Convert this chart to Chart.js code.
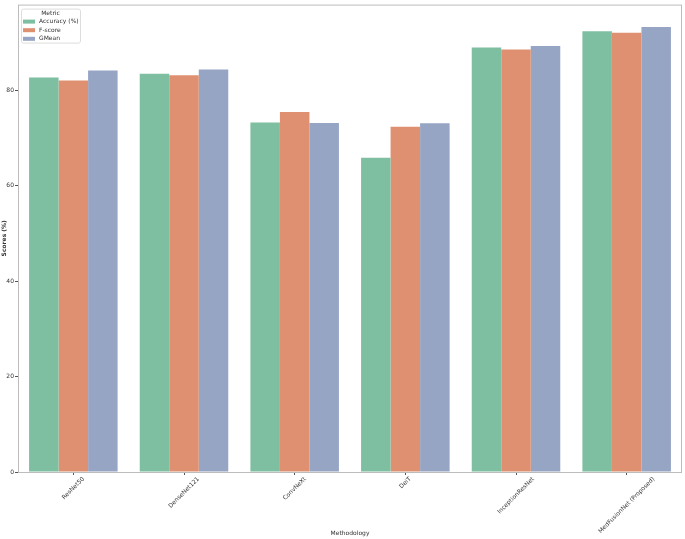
<!DOCTYPE html>
<html>
<head>
<meta charset="utf-8">
<script src="https://cdn.jsdelivr.net/npm/chart.js@4.4.1/dist/chart.umd.min.js"></script>
<style>
  body { margin: 0; background: #fff; }
  #wrap { width: 685px; height: 539px; position: relative; }
</style>
</head>
<body>
<div id="wrap"><canvas id="scoreChart"></canvas></div>
<script>
// data
const methods = ['ResNet50', 'DenseNet121', 'ConvNeXt', 'DeiT', 'InceptionResNet', 'MedFusionNet (Proposed)'];
const accuracy = [82.7, 83.5, 73.3, 65.9, 89.0, 92.4];
const fscore = [82.1, 83.2, 75.5, 72.4, 88.6, 92.1];
const gmean = [84.2, 84.4, 73.2, 73.1, 89.3, 93.3];
const yTicks = [0, 20, 40, 60, 80];

const FONT = 'DejaVu Sans';
const spineColor = '#bcbcbc';
const textColor = '#333';

// full box frame like matplotlib spines
const framePlugin = {
  id: 'frame',
  afterDraw(chart) {
    const a = chart.chartArea, ctx = chart.ctx;
    ctx.save();
    ctx.strokeStyle = spineColor;
    ctx.lineWidth = 1;
    ctx.strokeRect(a.left + 0.5, a.top + 0.5, a.right - a.left - 1, a.bottom - a.top);
    ctx.restore();
  }
};

// rotated x labels centred on the tick (matplotlib style)
const xLabelPlugin = {
  id: 'xLabels',
  afterDraw(chart) {
    const sc = chart.scales.x, ctx = chart.ctx;
    ctx.save();
    ctx.font = '6px "' + FONT + '"';
    ctx.fillStyle = textColor;
    ctx.textAlign = 'center';
    ctx.textBaseline = 'middle';
    const c = Math.SQRT1_2;
    methods.forEach((m, i) => {
      const x = sc.getPixelForTick(i);
      const w = ctx.measureText(m).width;
      const h = 6;
      const y = sc.top + 4 + (w + h) * c / 2;
      ctx.save();
      ctx.translate(x, y);
      ctx.rotate(-Math.PI / 4);
      ctx.fillText(m, 0, 0);
      ctx.restore();
    });
    ctx.restore();
  }
};

// legend box with title, top-left inside the axes
const legendPlugin = {
  id: 'boxLegend',
  afterDraw(chart) {
    const ctx = chart.ctx, a = chart.chartArea;
    const x0 = a.left + 3, y0 = a.top + 4, bw = 59, bh = 34;
    ctx.save();
    ctx.fillStyle = 'rgba(255,255,255,0.8)';
    ctx.strokeStyle = '#dddddd';
    ctx.lineWidth = 1;
    ctx.beginPath();
    ctx.roundRect(x0 + 0.5, y0 + 0.5, bw, bh, 2);
    ctx.fill();
    ctx.stroke();
    ctx.font = '6px "' + FONT + '"';
    ctx.fillStyle = textColor;
    ctx.textBaseline = 'middle';
    ctx.textAlign = 'center';
    ctx.fillText('Metric', x0 + bw / 2, y0 + 5);
    ctx.textAlign = 'left';
    chart.data.datasets.forEach((ds, i) => {
      const cy = y0 + 13 + i * 8.6;
      ctx.fillStyle = ds.backgroundColor;
      ctx.fillRect(x0 + 2, cy - 2, 12, 4);
      ctx.fillStyle = textColor;
      ctx.fillText(ds.label, x0 + 18, cy);
    });
    ctx.restore();
  }
};

new Chart(document.getElementById('scoreChart'), {
  type: 'bar',
  data: {
    labels: methods,
    datasets: [
      { label: 'Accuracy (%)', data: accuracy, backgroundColor: 'rgb(127,191,161)' },
      { label: 'F-score', data: fscore, backgroundColor: 'rgb(223,144,112)' },
      { label: 'GMean', data: gmean, backgroundColor: 'rgb(150,165,196)' }
    ]
  },
  options: {
    responsive: true,
    maintainAspectRatio: false,
    animation: false,
    datasets: { bar: { categoryPercentage: 0.8, barPercentage: 1.0, borderWidth: 0 } },
    layout: { padding: { top: 1, right: 3, left: 0, bottom: 0 } },
    plugins: { legend: { display: false }, tooltip: { enabled: false } },
    scales: {
      x: {
        grid: { offset: false, drawOnChartArea: false, tickLength: 3, color: '#555' },
        border: { display: false },
        ticks: { display: false },
        title: { display: true, text: 'Methodology', color: textColor, font: { family: FONT, size: 6 }, padding: { top: 0, bottom: 2 } },
        afterFit(s) { s.height = 67; }
      },
      y: {
        min: 0,
        max: 98,
        afterBuildTicks(s) { s.ticks = yTicks.map(v => ({ value: v })); },
        grid: { drawOnChartArea: false, tickLength: 3, color: '#555' },
        border: { display: false },
        ticks: { color: textColor, font: { family: FONT, size: 6 }, padding: 1 },
        title: { display: true, text: 'Scores (%)', color: textColor, font: { family: FONT, size: 6, weight: 'bold' }, padding: { top: 1, bottom: 0 } },
        afterFit(s) { s.width = 18; }
      }
    }
  },
  plugins: [framePlugin, xLabelPlugin, legendPlugin]
});
</script>
</body>
</html>
